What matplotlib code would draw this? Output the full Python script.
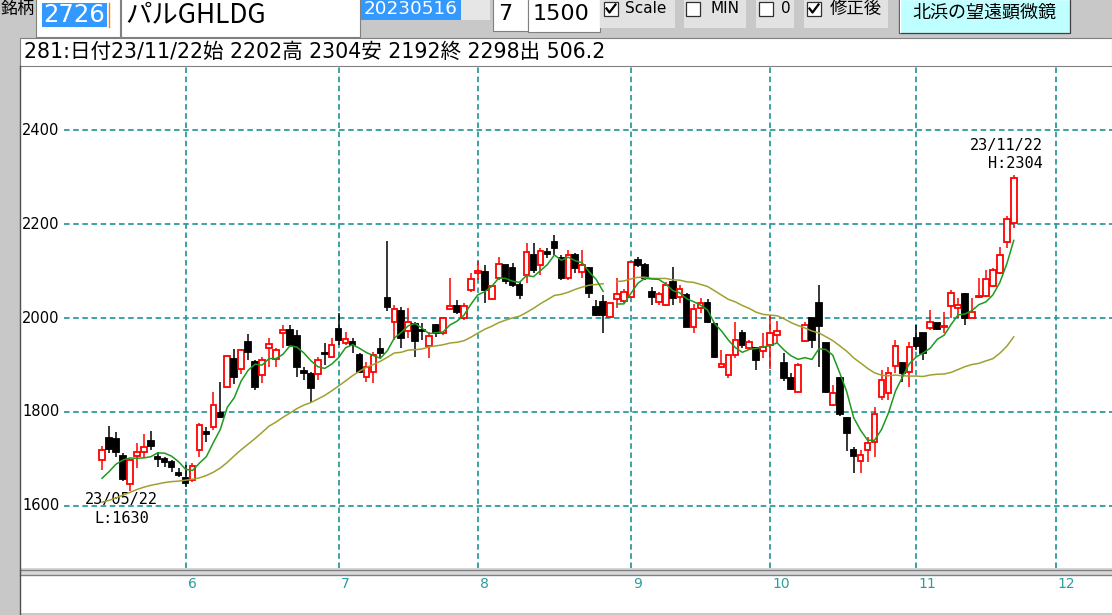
import numpy as np
import pandas as pd
import matplotlib
matplotlib.use("Agg")
import matplotlib.pyplot as plt
from matplotlib.patches import Rectangle
from matplotlib.lines import Line2D

plt.rcParams['font.family'] = ['Noto Sans CJK JP', 'DejaVu Sans']
plt.rcParams['lines.scale_dashes'] = False

W, H = 1112, 615

# ---------------- data ----------------
stock_code = "2726"
stock_name = "パルGHLDG"
start_date = "20230516"
ma_days_box = "7"
count_box = "1500"
record_no = 281
last_date = "23/11/22"
low_date = "23/05/22"
last_volume = "506.2"

opens = [1698, 1745, 1742, 1705, 1645, 1706, 1715, 1738, 1704, 1699, 1693, 1670, 1658, 1654, 1718, 1757,
         1768, 1798, 1852, 1912, 1891, 1948, 1907, 1878, 1935, 1912, 1967, 1974, 1962, 1886, 1881, 1881,
         1926, 1917, 1977, 1947, 1949, 1921, 1875, 1885, 1933, 2042, 1992, 2015, 1972, 1987, 1974, 1941,
         1985, 1969, 2019, 2026, 1999, 2060, 2095, 2099, 2041, 2085, 2112, 2106, 2070, 2092, 2134, 2113,
         2140, 2163, 2129, 2085, 2134, 2099, 2106, 2024, 2035, 2003, 2040, 2036, 2045, 2124, 2113, 2055,
         2035, 2028, 2076, 2045, 2049, 1981, 2021, 2033, 1987, 1896, 1878, 1921, 1969, 1935, 1935, 1930,
         1942, 1964, 1903, 1871, 1843, 1952, 1999, 2033, 1946, 1815, 1873, 1786, 1718, 1695, 1718, 1736,
         1832, 1839, 1897, 1905, 1885, 1957, 1967, 1978, 1990, 1981, 2026, 2021, 2052, 1999, 2044, 2046,
         2069, 2095, 2163, 2202]
highs = [1728, 1770, 1757, 1712, 1700, 1733, 1752, 1760, 1715, 1704, 1697, 1679, 1686, 1690, 1775, 1768,
         1843, 1864, 1921, 1933, 1933, 1966, 1910, 1917, 1957, 1935, 1985, 1985, 1974, 1896, 1885, 1917,
         1946, 1957, 2010, 1971, 1957, 1925, 1907, 1928, 1957, 2164, 2028, 2024, 2021, 1992, 1989, 1971,
         1987, 2003, 2086, 2038, 2031, 2095, 2122, 2112, 2070, 2131, 2113, 2117, 2077, 2159, 2159, 2149,
         2149, 2177, 2134, 2145, 2138, 2145, 2107, 2038, 2049, 2034, 2085, 2062, 2120, 2131, 2117, 2067,
         2056, 2076, 2109, 2070, 2053, 2029, 2042, 2041, 1991, 1932, 1921, 1992, 1974, 1953, 1936, 1967,
         2006, 1994, 1925, 1882, 1903, 1992, 1999, 2070, 1947, 1857, 1875, 1789, 1724, 1718, 1746, 1811,
         1889, 1895, 1953, 1906, 1949, 1985, 1967, 2017, 1990, 2013, 2060, 2042, 2053, 2043, 2085, 2102,
         2107, 2152, 2218, 2304]
lows = [1676, 1712, 1704, 1652, 1630, 1679, 1701, 1718, 1683, 1683, 1672, 1661, 1640, 1651, 1704, 1736,
        1761, 1786, 1851, 1859, 1880, 1910, 1846, 1862, 1896, 1895, 1935, 1939, 1875, 1868, 1821, 1868,
        1900, 1914, 1942, 1942, 1925, 1883, 1864, 1861, 1914, 2015, 1953, 1935, 1957, 1917, 1953, 1914,
        1960, 1964, 2017, 2008, 1996, 2056, 2081, 2031, 2038, 2081, 2072, 2066, 2041, 2074, 2095, 2092,
        2128, 2134, 2081, 2081, 2095, 2085, 2042, 2004, 1969, 2000, 2021, 2032, 2043, 2109, 2081, 2028,
        2028, 2026, 2028, 2031, 1981, 1969, 2010, 1989, 1915, 1893, 1871, 1915, 1936, 1932, 1889, 1914,
        1891, 1947, 1866, 1846, 1842, 1949, 1935, 1896, 1840, 1812, 1791, 1716, 1669, 1669, 1693, 1704,
        1825, 1825, 1882, 1864, 1853, 1932, 1910, 1974, 1974, 1967, 1999, 1999, 1985, 1999, 2042, 2045,
        2066, 2094, 2149, 2192]
closes = [1718, 1720, 1715, 1657, 1697, 1715, 1724, 1727, 1699, 1693, 1683, 1665, 1647, 1685, 1772, 1753,
          1814, 1788, 1920, 1875, 1932, 1928, 1852, 1910, 1945, 1932, 1974, 1942, 1896, 1883, 1850, 1910,
          1923, 1942, 1953, 1955, 1942, 1885, 1896, 1921, 1926, 2024, 2019, 1957, 1991, 1951, 1972, 1962,
          1967, 1999, 2026, 2012, 2026, 2083, 2100, 2060, 2068, 2115, 2079, 2070, 2049, 2141, 2102, 2143,
          2136, 2150, 2085, 2134, 2106, 2113, 2053, 2006, 2006, 2033, 2051, 2055, 2119, 2113, 2085, 2044,
          2051, 2070, 2043, 2061, 1981, 2019, 2033, 1992, 1917, 1901, 1921, 1953, 1942, 1948, 1910, 1938,
          1967, 1972, 1871, 1849, 1900, 1985, 1953, 1984, 1842, 1839, 1795, 1754, 1706, 1708, 1733, 1795,
          1868, 1883, 1941, 1882, 1939, 1940, 1926, 1991, 1976, 1984, 2054, 2028, 2001, 2013, 2047, 2083,
          2102, 2134, 2211, 2298]

# moving averages: short (5 days) and long (25 days); the first values
short_ma_days = 5
long_ma_days = 25
short_ma_head = [1658, 1672, 1688, 1697]
long_ma_head = [1607, 1611, 1616, 1622, 1628, 1634, 1639, 1643, 1646, 1649, 1651, 1652,
                1654, 1656, 1659, 1664, 1671, 1680, 1692, 1706, 1719, 1731, 1743, 1756]
ma_break_index = 73

month_labels = ['6', '7', '8', '9', '10', '11', '12']
month_start_index = [12, 34, 54, 76, 96, 117, 137]
price_ticks = [1600, 1800, 2000, 2200, 2400]

# ---------------- derived ----------------
n = len(closes)
idx = np.arange(n)
o = np.array(opens, float); h = np.array(highs, float)
l = np.array(lows, float); c = np.array(closes, float)
cs = pd.Series(c)
ma_s = cs.rolling(short_ma_days).mean().to_numpy()
ma_s[:len(short_ma_head)] = short_ma_head
ma_l = cs.rolling(long_ma_days).mean().to_numpy()
ma_l[:len(long_ma_head)] = long_ma_head
ma_s[ma_break_index] = np.nan
ma_l[ma_break_index] = np.nan

# ---------------- figure ----------------
GRAY = '#c8c8c8'
TEAL = '#2d9c9c'
fig = plt.figure(figsize=(W / 100, H / 100), dpi=100)
fig.patch.set_facecolor(GRAY)


def box(x0, y0, x1, y1, fc, ec='none', lw=0.0, z=1):
    fig.add_artist(Rectangle((x0 / W, 1 - y1 / H), (x1 - x0) / W, (y1 - y0) / H,
                             transform=fig.transFigure, facecolor=fc, edgecolor=ec,
                             linewidth=lw, zorder=z))


def line(xs, ys, color, lw=1.0, z=2):
    fig.add_artist(Line2D([x / W for x in xs], [1 - y / H for y in ys],
                          transform=fig.transFigure, color=color, linewidth=lw, zorder=z))


def txt(x, y, s, size, color='black', ha='left', va='center', family=None, z=3):
    kw = {}
    if family is not None:
        kw['family'] = family
    fig.text(x / W, 1 - y / H, s, fontsize=size, color=color, ha=ha, va=va, zorder=z, **kw)


LAT = ['DejaVu Sans', 'Noto Sans CJK JP']

# toolbar
txt(0.5, 9, '銘柄', 12.3)
box(36, -2, 120, 37, 'white', '#808080', 0.8)
box(42, 3, 107, 27, '#3399ff', z=2)
line([108.5, 108.5], [3, 27], '#ff8000', 1.0, z=3)
txt(43.5, 15.5, stock_code, 17.5, 'white', family=LAT)
box(120.5, -2, 360, 37, 'white', '#808080', 0.8)
txt(125, 14.5, stock_name, 19)
box(361, -2, 461, 19.6, '#3399ff')
txt(364, 9.5, start_date, 13.2, 'white', family=LAT)
box(461, -2, 490, 19.6, '#e6e6e6')
box(493, -2, 528, 30.5, 'white', '#808080', 0.8)
txt(498, 14.5, ma_days_box, 16, family=LAT)
box(528, -2, 600, 31.5, 'white', '#808080', 0.8)
txt(533, 14.5, count_box, 16, family=LAT)

for (px0, px1) in [(600, 675), (684, 746), (756, 794), (804, 888)]:
    box(px0, -2, px1, 28, '#e2e2e2')
for bx in [604, 686, 759, 807]:
    box(bx, 2, bx + 14, 16, 'white', '#303030', 0.9, z=2)
for bx in [604, 807]:
    line([bx + 2.5, bx + 5.5, bx + 11.5], [8.5, 12.5, 4.5], 'black', 1.6, z=3)
txt(625, 8.5, 'Scale', 11, family=LAT)
txt(711, 8.5, 'MIN', 11, family=LAT)
txt(781, 8.5, '0', 11, family=LAT)
txt(830, 9, '修正後', 12.5)
box(899, -2, 1070, 33, '#c0ffff', '#404040', 0.9)
line([900, 900, 1069], [32, -1, -1], 'white', 1.0, z=2)
txt(984.5, 12.5, '北浜の望遠顕微鏡', 13, ha='center')

# header line
box(19.5, 38, 1112, 66, 'white', '#808080', 0.8)
header = (f"{record_no}:日付{last_date}始 {opens[-1]}高 {highs[-1]}安 {lows[-1]}"
          f"終 {closes[-1]}出 {last_volume}")
txt(24, 51.5, header, 14.8, family=LAT)

# bottom panel
box(19.5, 568, 1112, 576, '#d8d8d8', z=1)
line([19.5, 1112], [569.5, 569.5], '#808080', 1.0)
line([19.5, 1112], [574.5, 574.5], '#808080', 1.0)
box(19.5, 576, 1112, 613, 'white', z=1)
line([19.5, 19.5], [66, 615], '#505050', 1.0)

# ---------------- chart axes ----------------
X0, DX = 102.0, 6.96   # pixel position of day 0 and pixel width of one day


def px_to_i(p):
    return (p - X0) / DX


def py_to_price(y):
    return 2000 + (318 - y) * 2.1333


ax = fig.add_axes([20 / W, 1 - 568 / H, (1112 - 20) / W, (568 - 67) / H])
ax.set_facecolor('white')
ax.set_xlim(px_to_i(20), px_to_i(1112))
ax.set_ylim(py_to_price(568), py_to_price(67))
for s in ax.spines.values():
    s.set_visible(False)
ax.set_xticks([]); ax.set_yticks([])

dash = (0, (4.0, 2.6))
ax.hlines(price_ticks, px_to_i(64), px_to_i(1112), colors=TEAL, linestyles=dash,
          linewidth=1.3, zorder=1)
ax.vlines(month_start_index, py_to_price(568), py_to_price(67), colors=TEAL,
          linestyles=dash, linewidth=1.3, zorder=1)
for p in price_ticks:
    ax.text(px_to_i(22), p, str(p), ha='left', va='center', fontsize=10.5,
            family='DejaVu Sans', color='black')

up = c >= o
RED = '#ff0000'
wcol = [RED if u else 'black' for u in up]
ax.vlines(idx, l, h, colors=wcol, linewidth=1.1, zorder=2)
body_bottom = np.minimum(o, c)
body_h = np.maximum(np.abs(c - o), 1.5)
ax.bar(idx, body_h, bottom=body_bottom, width=0.8,
       color=['white' if u else 'black' for u in up],
       edgecolor=wcol, linewidth=1.3, zorder=3)

ax.plot(idx, ma_l, color='#a0a030', linewidth=1.1, zorder=4)
ax.plot(idx, ma_s, color='#1e9a1e', linewidth=1.1, zorder=4)

# low / high annotations
i_lo = int(np.argmin(l)); i_hi = int(np.argmax(h))
ann = dict(textcoords='offset points', fontsize=11, family='DejaVu Sans Mono', color='black')
ax.annotate(low_date, xy=(i_lo, l[i_lo]), xytext=(-6, -6), ha='center', va='center', **ann)
ax.annotate(f"L:{int(l[i_lo])}", xy=(i_lo, l[i_lo]), xytext=(-6, -19.5), ha='center', va='center', **ann)
ax.annotate(last_date, xy=(i_hi, h[i_hi]), xytext=(21, 21.5), ha='right', va='center', **ann)
ax.annotate(f"H:{int(h[i_hi])}", xy=(i_hi, h[i_hi]), xytext=(21, 8.5), ha='right', va='center', **ann)

# month labels
for mi, lab in zip(month_start_index, month_labels):
    txt(X0 + DX * mi + 2, 584, lab, 10, TEAL, family='DejaVu Sans')

fig.savefig('out.png', dpi=100, facecolor=fig.get_facecolor())
